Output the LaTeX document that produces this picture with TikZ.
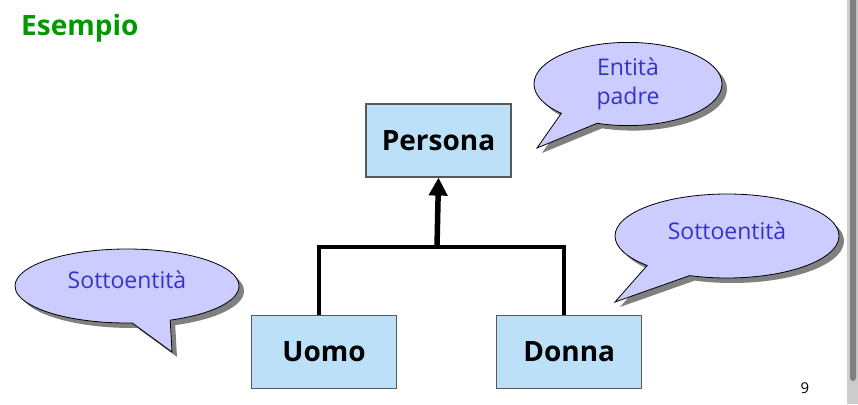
\documentclass[tikz,border=0pt]{standalone}
\usepackage{fontspec}
\setmainfont{Open Sans}
\usetikzlibrary{arrows.meta, shapes.callouts, shadows, positioning}
\definecolor{boxblue}{RGB}{187,224,248}
\definecolor{bubblefill}{RGB}{204,204,255}
\definecolor{bubbletext}{RGB}{51,51,204}
\definecolor{titlegreen}{RGB}{0,153,0}

\begin{document}
\begin{tikzpicture}[x=1pt, y=-1pt,
    entity/.style={draw=black!65, line width=1.2pt, fill=boxblue,
      minimum width=145pt, minimum height=73pt,
      font=\bfseries\fontsize{28}{30}\selectfont},
    bubble/.style={ellipse callout, draw=black, line width=0.8pt,
      fill=bubblefill, text=bubbletext, align=center,
      font=\fontsize{23}{29}\selectfont, callout pointer arc=26,
      drop shadow={shadow xshift=5pt, shadow yshift=-5pt, fill=black!50, opacity=1}},
    link/.style={line width=4pt},
  ]
  \useasboundingbox (0,0) rectangle (858,404);
  % scrollbar on the right edge
  \fill[black!20] (847,0) rectangle (858,404);
  \fill[black!50, rounded corners=3pt] (850,-6) rectangle (856,381);

  \node[anchor=base west, inner sep=0pt, text=titlegreen,
    font=\bfseries\fontsize{28}{30}\selectfont] (title) at (21,36) {Esempio};

  % entities
  \node[entity] (persona) at (438.5,140.5) {Persona};
  \node[entity] (uomo) at (324,352) {Uomo};
  \node[entity, right=99pt of uomo] (donna) {Donna};

  % generalization
  \coordinate (junc) at (437,247);
  \draw[link] ([xshift=-5pt]uomo.north) |- (junc) -| ([xshift=-5pt]donna.north);
  \draw[link, line width=5.5pt, -{Triangle[length=18pt,width=18pt]}] (junc) -- (persona.south);

  % comments
  \node[bubble, minimum width=188pt, minimum height=76pt,
    callout absolute pointer={(537,148)}] (padre) at (628,84) {Entità\\padre};
  \node[bubble, minimum width=224pt, minimum height=84pt,
    callout absolute pointer={(615,302)}] (sotto2) at (727,236) {\raisebox{10pt}{Sottoentità}};
  \node[bubble, minimum width=224pt, minimum height=74pt, callout pointer arc=20,
    callout absolute pointer={(172,352)}] (sotto1) at (127,286) {\raisebox{13pt}{Sottoentità}};

  \node[font=\fontsize{15}{16}\selectfont] (pagenum) at (805,388) {9};
\end{tikzpicture}
\end{document}
